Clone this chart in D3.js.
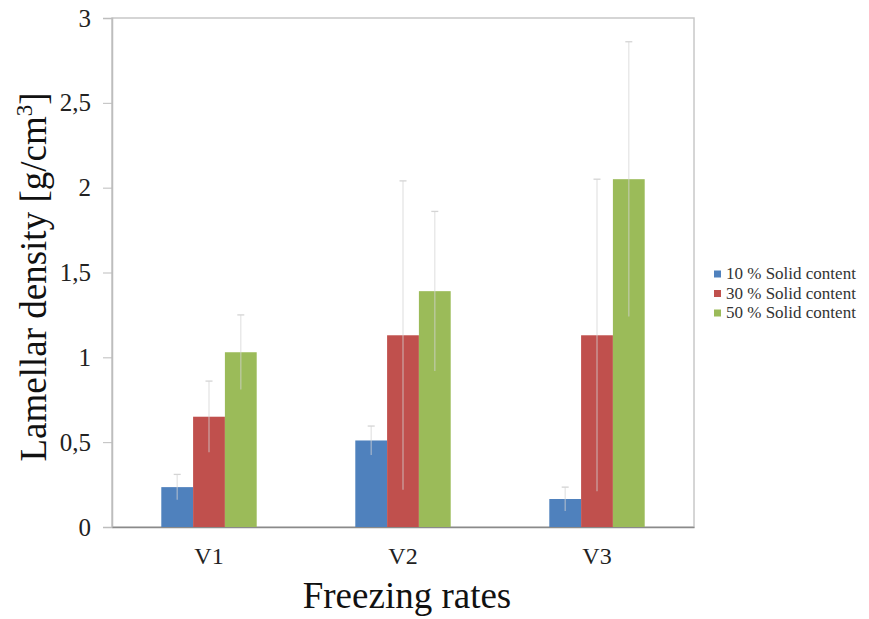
<!DOCTYPE html>
<html>
<head>
<meta charset="utf-8">
<script src="https://cdn.jsdelivr.net/npm/d3@7"></script>
<style>
  body { margin: 0; background: #fff; }
</style>
</head>
<body>
<svg id="chart" width="869" height="619"></svg>
<script>
// Lamellar density by freezing rate and solid content
const categories = ["V1", "V2", "V3"];
const seriesNames = ["10 % Solid content", "30 % Solid content", "50 % Solid content"];
const seriesColors = ["#4f81bd", "#c0504d", "#9bbb59"];
const means10 = [0.235, 0.51, 0.165];
const means30 = [0.65, 1.13, 1.13];
const means50 = [1.03, 1.39, 2.05];
const errors10 = [0.075, 0.085, 0.07];
const errors30 = [0.21, 0.91, 0.92];
const errors50 = [0.22, 0.47, 0.81];
const yTicks = [0, 0.5, 1, 1.5, 2, 2.5, 3];

const means = [means10, means30, means50];
const errors = [errors10, errors30, errors50];

const FONT = "'Liberation Serif', 'Times New Roman', serif";
const svg = d3.select("#chart");
const plotLeft = 112, plotRight = 694, plotTop = 18, plotBottom = 527;

const x = d3.scaleBand().domain(categories).range([plotLeft, plotRight]).paddingInner(0).paddingOuter(0);
const xs = d3.scaleBand().domain(seriesNames).range([0, x.bandwidth()]).paddingInner(0).paddingOuter(1.55);
const y = d3.scaleLinear().domain([0, 3]).range([plotBottom, plotTop]);

// plot frame
svg.append("rect")
  .attr("x", plotLeft).attr("y", plotTop)
  .attr("width", plotRight - plotLeft).attr("height", plotBottom - plotTop)
  .attr("fill", "none").attr("stroke", "#c8c8c8").attr("stroke-width", 1.5);

// y axis
const yAxis = svg.append("g").attr("transform", `translate(${plotLeft},0)`)
  .call(d3.axisLeft(y).tickValues(yTicks).tickSize(9).tickPadding(12)
    .tickFormat(d => String(d).replace(".", ",")));
yAxis.attr("font-family", FONT);
yAxis.select(".domain").attr("stroke", "#bdbdbd").attr("stroke-width", 1.5);
yAxis.selectAll(".tick line").attr("stroke", "#bdbdbd");
yAxis.selectAll("text").attr("font-size", 25).attr("fill", "#222");

// x axis
const xAxis = svg.append("g").attr("transform", `translate(0,${plotBottom})`)
  .call(d3.axisBottom(x).tickSize(0).tickPadding(20));
xAxis.attr("font-family", FONT);
xAxis.select(".domain").attr("stroke", "#8a8a8a").attr("stroke-width", 1.5);
xAxis.selectAll("text").attr("font-size", 24).attr("fill", "#222");

// bars
const groups = svg.append("g").selectAll("g")
  .data(seriesNames)
  .join("g")
  .attr("fill", (d, i) => seriesColors[i]);

groups.each(function(name, si) {
  const g = d3.select(this);
  g.selectAll("rect")
    .data(categories.map((c, ci) => ({ c, v: means[si][ci], e: errors[si][ci] })))
    .join("rect")
    .attr("x", d => x(d.c) + xs(name))
    .attr("width", xs.bandwidth())
    .attr("y", d => y(d.v))
    .attr("height", d => y(0) - y(d.v));
});

// error bars
const errG = svg.append("g").attr("stroke", "#d4d4d4").attr("stroke-width", 1.3).attr("fill", "none");
seriesNames.forEach((name, si) => {
  categories.forEach((c, ci) => {
    const cx = x(c) + xs(name) + xs.bandwidth() / 2;
    const v = means[si][ci], e = errors[si][ci];
    errG.append("line").attr("x1", cx).attr("x2", cx)
      .attr("y1", y(Math.max(0, v - e))).attr("y2", y(v + e))
      .attr("stroke-opacity", 0.6);
    errG.append("line").attr("x1", cx - 3.5).attr("x2", cx + 3.5)
      .attr("y1", y(v + e)).attr("y2", y(v + e));
  });
});

// axis titles
svg.append("text")
  .attr("transform", "translate(46,277) rotate(-90)")
  .attr("text-anchor", "middle")
  .attr("font-family", FONT)
  .attr("font-size", 37).attr("fill", "#111")
  .html('Lamellar density [g/cm<tspan dy="-14" font-size="23">3</tspan><tspan dy="14">]</tspan>');

svg.append("text")
  .attr("x", 407).attr("y", 608)
  .attr("text-anchor", "middle")
  .attr("font-family", FONT)
  .attr("font-size", 37).attr("fill", "#111")
  .text("Freezing rates");

// legend
const legend = svg.append("g").attr("transform", "translate(714,274)");
seriesNames.forEach((name, i) => {
  const row = legend.append("g").attr("transform", `translate(0,${i * 19.5})`);
  row.append("rect").attr("x", 0).attr("y", -3.5).attr("width", 7).attr("height", 7)
    .attr("fill", seriesColors[i]);
  row.append("text").attr("x", 12).attr("y", 5)
    .attr("font-family", FONT)
    .attr("font-size", 17).attr("fill", "#333").text(name);
});
</script>
</body>
</html>
